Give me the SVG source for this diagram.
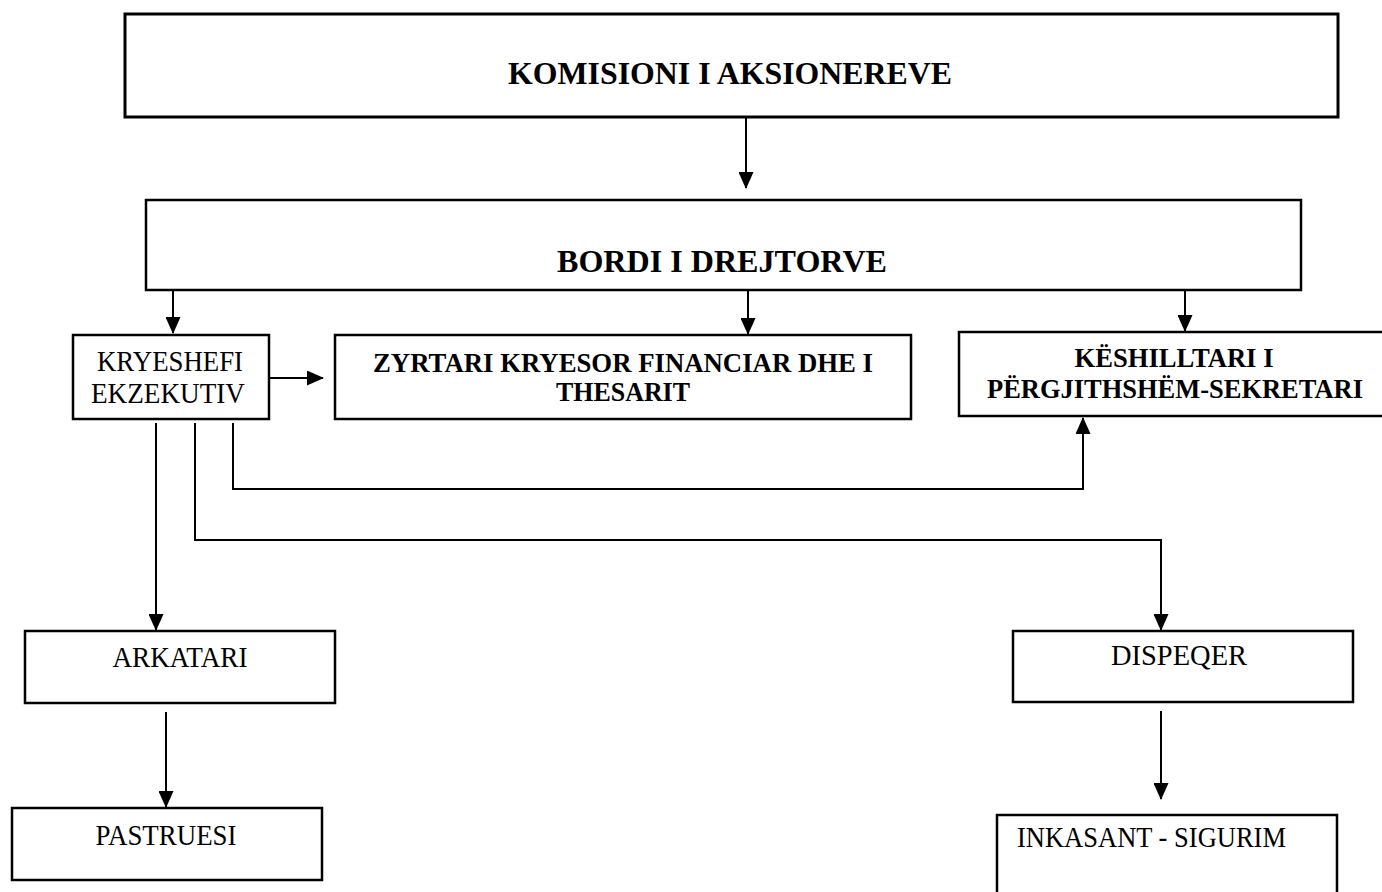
<svg xmlns="http://www.w3.org/2000/svg" width="1382" height="892" viewBox="0 0 1382 892">
<style>
.box{fill:#fff;stroke:#000;stroke-width:2.5}
.big{fill:#fff;stroke:#000;stroke-width:3}
.t{font-family:"Liberation Serif","Times New Roman",serif;font-size:28.5px;fill:#000}
.b{font-family:"Liberation Serif","Times New Roman",serif;font-size:27.5px;font-weight:bold;fill:#000}
.h{font-family:"Liberation Serif","Times New Roman",serif;font-size:31px;font-weight:bold;fill:#000}
.c{fill:none;stroke:#000;stroke-width:2}
</style>
<defs>
<marker id="arr" markerUnits="userSpaceOnUse" markerWidth="17" markerHeight="15" refX="16" refY="7.5" orient="auto">
<path d="M0,0 L17,7.5 L0,15 z" fill="#000"/>
</marker>
</defs>
<rect width="1382" height="892" fill="#fff"/>
<g id="connectors">
<path class="c" d="M746,118 V188" marker-end="url(#arr)"/>
<path class="c" d="M173,290 V333" marker-end="url(#arr)"/>
<path class="c" d="M748,290 V334" marker-end="url(#arr)"/>
<path class="c" d="M1185,290 V331" marker-end="url(#arr)"/>
<path class="c" d="M269,378 H323" marker-end="url(#arr)"/>
<path class="c" d="M156,423 V630" marker-end="url(#arr)"/>
<path class="c" d="M195,423 V540 H1161 V630" marker-end="url(#arr)"/>
<path class="c" d="M233,423 V489 H1083 V418" marker-end="url(#arr)"/>
<path class="c" d="M166,712 V807" marker-end="url(#arr)"/>
<path class="c" d="M1161,711 V799" marker-end="url(#arr)"/>
</g>
<g id="komisioni">
<rect class="big" x="125" y="14" width="1213" height="103"/>
<text class="h" x="730" y="84" text-anchor="middle" textLength="444" lengthAdjust="spacingAndGlyphs">KOMISIONI I AKSIONEREVE</text>
</g>
<g id="bordi">
<rect class="box" x="146" y="200" width="1155" height="90"/>
<text class="h" x="722" y="272" text-anchor="middle" textLength="330" lengthAdjust="spacingAndGlyphs">BORDI I DREJTORVE</text>
</g>
<g id="kryeshefi">
<rect class="box" x="73" y="335" width="196" height="84"/>
<text class="t" x="170" y="371" text-anchor="middle" textLength="146" lengthAdjust="spacingAndGlyphs">KRYESHEFI</text>
<text class="t" x="168" y="403" text-anchor="middle" textLength="154" lengthAdjust="spacingAndGlyphs">EKZEKUTIV</text>
</g>
<g id="zyrtari">
<rect class="box" x="335" y="335" width="576" height="84"/>
<text class="b" x="623" y="372" text-anchor="middle" textLength="500" lengthAdjust="spacingAndGlyphs">ZYRTARI KRYESOR FINANCIAR DHE I</text>
<text class="b" x="623" y="401" text-anchor="middle" textLength="134" lengthAdjust="spacingAndGlyphs">THESARIT</text>
</g>
<g id="keshilltari">
<rect class="box" x="959" y="332" width="440" height="84"/>
<text class="b" x="1174" y="367" text-anchor="middle" textLength="199" lengthAdjust="spacingAndGlyphs">KËSHILLTARI I</text>
<text class="b" x="1175" y="398" text-anchor="middle" textLength="376" lengthAdjust="spacingAndGlyphs">PËRGJITHSHËM-SEKRETARI</text>
</g>
<g id="arkatari">
<rect class="box" x="25" y="631" width="310" height="72"/>
<text class="t" x="180" y="667" text-anchor="middle" textLength="135" lengthAdjust="spacingAndGlyphs">ARKATARI</text>
</g>
<g id="pastruesi">
<rect class="box" x="12" y="808" width="310" height="72"/>
<text class="t" x="166" y="845" text-anchor="middle" textLength="141" lengthAdjust="spacingAndGlyphs">PASTRUESI</text>
</g>
<g id="dispeqer">
<rect class="box" x="1013" y="631" width="340" height="71"/>
<text class="t" x="1179" y="665" text-anchor="middle" textLength="136" lengthAdjust="spacingAndGlyphs">DISPEQER</text>
</g>
<g id="inkasant">
<rect class="box" x="997" y="815" width="340" height="90"/>
<text class="t" x="1017" y="847" textLength="269" lengthAdjust="spacingAndGlyphs">INKASANT - SIGURIM</text>
</g>
</svg>
